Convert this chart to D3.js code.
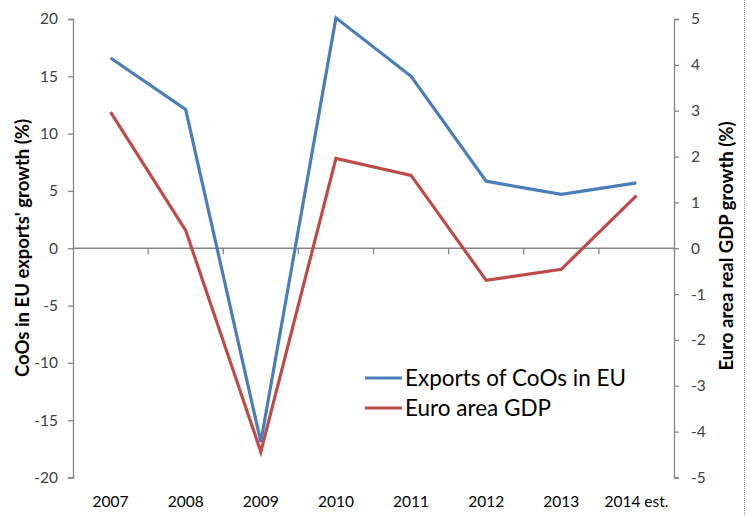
<!DOCTYPE html>
<html>
<head>
<meta charset="utf-8">
<script src="https://cdn.jsdelivr.net/npm/d3@7"></script>
<style>
body { margin: 0; background: #fff; }
svg text { font-family: Lato, "Open Sans", sans-serif; }
</style>
</head>
<body>
<script>
var w = 747;
var h = 516;

var years = ["2007", "2008", "2009", "2010", "2011", "2012", "2013", "2014 est."];
var exportsGrowth = [16.6, 12.1, -16.9, 20.1, 15.0, 5.85, 4.7, 5.7];
var gdpGrowth = [2.97, 0.39, -4.44, 1.96, 1.59, -0.70, -0.46, 1.15];
var leftTicks = [-20, -15, -10, -5, 0, 5, 10, 15, 20];
var rightTicks = [-5, -4, -3, -2, -1, 0, 1, 2, 3, 4, 5];

var margin = {top: 19, left: 73, right: 73, bottom: 38};

var svg = d3.select("body")
    .append("svg")
    .attr("width", w)
    .attr("height", h);

var x = d3.scaleBand()
    .domain(years)
    .range([margin.left, w - margin.right]);

var yL = d3.scaleLinear()
    .domain([-20, 20])
    .range([h - margin.bottom - 0.5, margin.top]);

var yR = d3.scaleLinear()
    .domain([-5, 5])
    .range([h - margin.bottom - 0.5, margin.top]);

var axisColor = "#868686";
var textColor = "#404040";
// plain hyphen for negatives, like the original
var fmt = function(d) { return String(d); };

// left axis
var gl = svg.append("g")
    .attr("transform", "translate(" + margin.left + ",0)")
    .call(d3.axisLeft(yL).tickValues(leftTicks).tickSize(5).tickPadding(10).tickFormat(fmt));
gl.selectAll("text").attr("font-size", 15.5).attr("fill", textColor);

// right axis
var gr = svg.append("g")
    .attr("transform", "translate(" + (w - margin.right) + ",0)")
    .call(d3.axisRight(yR).tickValues(rightTicks).tickSize(5).tickPadding(12).tickFormat(fmt));
gr.selectAll("text").attr("font-size", 15.5).attr("fill", textColor);

[gl, gr].forEach(function(g) {
    g.select(".domain").attr("stroke", axisColor).attr("stroke-width", 1.3);
    g.selectAll(".tick line").attr("stroke", axisColor).attr("stroke-width", 1.3);
});

// category axis through zero, boundary ticks
var zeroY = yL(0);
svg.append("line")
    .attr("x1", margin.left).attr("x2", w - margin.right)
    .attr("y1", zeroY).attr("y2", zeroY)
    .attr("stroke", axisColor).attr("stroke-width", 1.3);

svg.selectAll(".xtick")
    .data(years.slice(1))
    .enter().append("line")
    .attr("x1", function(d) { return x(d); })
    .attr("x2", function(d) { return x(d); })
    .attr("y1", zeroY)
    .attr("y2", zeroY + 6)
    .attr("stroke", axisColor).attr("stroke-width", 1.3);

svg.selectAll(".xlabel")
    .data(years)
    .enter().append("text")
    .attr("x", function(d) { return x(d) + x.bandwidth() / 2; })
    .attr("y", 507)
    .attr("text-anchor", "middle")
    .attr("font-size", 15.5)
    .attr("fill", "#000")
    .text(function(d) { return d; });

// axis titles
svg.append("text")
    .attr("transform", "translate(29,248) rotate(-90)")
    .attr("text-anchor", "middle")
    .attr("font-size", 18.5)
    .attr("font-weight", "bold")
    .attr("fill", "#000")
    .text("CoOs in EU exports' growth (%)");

svg.append("text")
    .attr("transform", "translate(733,246) rotate(-90)")
    .attr("text-anchor", "middle")
    .attr("font-size", 18.5)
    .attr("font-weight", "bold")
    .attr("fill", "#000")
    .text("Euro area real GDP growth (%)");

// dotted border on the right
svg.append("line")
    .attr("x1", 744.5).attr("x2", 744.5)
    .attr("y1", 0).attr("y2", h)
    .attr("stroke", "#999")
    .attr("stroke-dasharray", "1,1");

// lines
var cx = function(d, i) { return x(years[i]) + x.bandwidth() / 2; };

var lineL = d3.line().x(cx).y(function(d) { return yL(d); });
var lineR = d3.line().x(cx).y(function(d) { return yR(d); });

svg.append("path")
    .attr("d", lineL(exportsGrowth))
    .attr("fill", "none")
    .attr("stroke", "#4a7ebb")
    .attr("stroke-width", 3.2);

svg.append("path")
    .attr("d", lineR(gdpGrowth))
    .attr("fill", "none")
    .attr("stroke", "#be4b48")
    .attr("stroke-width", 3.2);

// legend
var legend = [
    {name: "Exports of CoOs in EU", color: "#4a7ebb"},
    {name: "Euro area GDP", color: "#be4b48"}
];

var lg = svg.selectAll(".legend")
    .data(legend)
    .enter().append("g")
    .attr("transform", function(d, i) { return "translate(365," + (378 + i * 30) + ")"; });

lg.append("line")
    .attr("x1", 0).attr("x2", 37)
    .attr("stroke", function(d) { return d.color; })
    .attr("stroke-width", 3.2);

lg.append("text")
    .attr("x", 40)
    .attr("y", 7.5)
    .attr("font-size", 22.5)
    .attr("fill", "#000")
    .text(function(d) { return d.name; });
</script>
</body>
</html>
